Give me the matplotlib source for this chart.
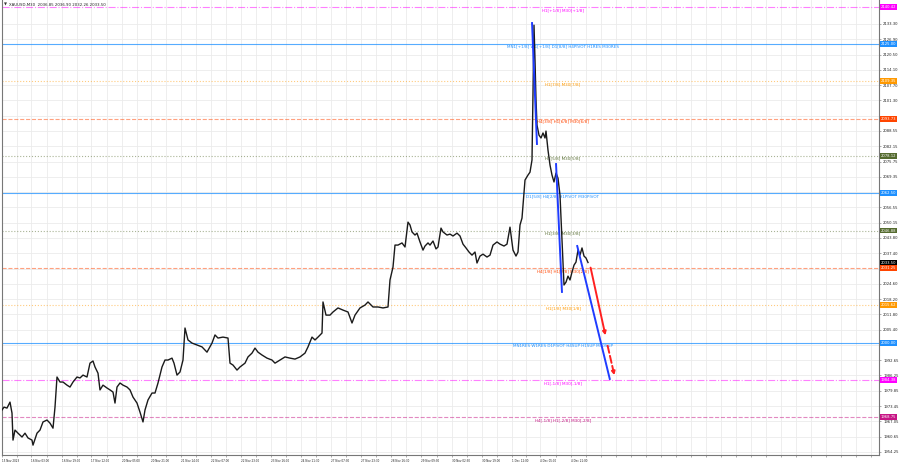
import matplotlib
matplotlib.use("Agg")
import matplotlib.pyplot as plt
import numpy as np

# XAUUSD M30 - price trace (bar index, close)
bar = [2, 4, 7, 10, 12, 13, 15, 18, 22, 25, 28, 32, 33, 37, 40, 43, 47, 50, 53, 55,
       57, 60, 63, 67, 70, 73, 77, 80, 83, 87, 90, 93, 95, 98, 100, 103, 107, 110, 113, 115,
       117, 120, 123, 127, 130, 133, 137, 140, 143, 145, 148, 152, 155, 158, 162, 165, 168, 172, 174, 177,
       180, 183, 185, 188, 192, 197, 202, 207, 212, 215, 218, 223, 228, 230, 233, 237, 240, 245, 248, 252,
       255, 258, 262, 267, 272, 275, 280, 285, 290, 295, 300, 305, 308, 312, 315, 318, 322, 323, 326, 330,
       333, 338, 343, 348, 352, 355, 360, 365, 368, 373, 378, 383, 388, 390, 393, 395, 398, 402, 405, 408,
       410, 412, 415, 417, 420, 423, 425, 428, 430, 433, 436, 438, 441, 443, 447, 450, 453, 457, 460, 463,
       466, 469, 472, 475, 477, 480, 483, 487, 490, 493, 497, 500, 504, 507, 510, 513, 516, 518, 520, 522,
       525, 528, 530, 532, 534, 535, 536, 537, 539, 541, 543, 545, 546, 548, 550, 552, 554, 556, 558, 560,
       562, 564, 566, 568, 570, 572, 574, 576, 578, 580, 582, 584, 586, 588]
close = [1971.8, 1973.0, 1972.6, 1975.1, 1970.5, 1959.2, 1963.4, 1962.1, 1960.5, 1962.1, 1960.1, 1959.2, 1957.1, 1962.1, 1963.4, 1966.8, 1967.6, 1966.3, 1964.2, 1973.0,
         1985.6, 1983.5, 1983.5, 1982.2, 1981.4, 1983.5, 1985.6, 1985.2, 1986.4, 1985.6, 1991.4, 1992.3, 1989.8, 1987.2, 1980.2, 1982.2, 1981.0, 1980.2, 1979.3, 1974.7,
         1981.4, 1983.1, 1982.2, 1981.4, 1980.2, 1977.2, 1974.7, 1970.9, 1966.8, 1971.8, 1976.0, 1978.9, 1978.9, 1983.1, 1989.8, 1992.7, 1992.7, 1993.5, 1991.4, 1986.4,
         1987.7, 1992.7, 2006.1, 2001.1, 1999.8, 1999.0, 1998.2, 1996.0, 1999.8, 2003.2, 2001.9, 2002.3, 2001.9, 1991.4, 1990.6, 1988.5, 1989.8, 1991.4, 1994.0, 1995.6,
         1997.7, 1996.0, 1994.8, 1993.5, 1992.7, 1991.4, 1992.7, 1994.0, 1993.5, 1993.1, 1994.0, 1995.6, 1998.2, 2002.3, 2001.1, 2002.3, 2004.0, 2017.0, 2011.5, 2011.5,
         2012.8, 2014.5, 2013.6, 2012.8, 2008.2, 2011.5, 2014.5, 2015.7, 2017.0, 2014.9, 2014.9, 2014.5, 2014.9, 2026.2, 2031.6, 2040.8, 2040.8, 2041.7, 2040.0, 2050.4,
         2049.2, 2046.3, 2045.0, 2045.8, 2042.1, 2038.7, 2040.4, 2041.7, 2040.8, 2042.5, 2039.2, 2040.0, 2047.9, 2046.3, 2045.0, 2045.4, 2044.6, 2045.8, 2044.6, 2041.2,
         2039.6, 2037.9, 2036.6, 2037.9, 2033.3, 2036.2, 2037.0, 2035.8, 2036.6, 2040.8, 2042.1, 2041.2, 2040.4, 2041.2, 2048.3, 2038.7, 2036.2, 2037.9, 2049.2, 2052.1,
         2068.0, 2070.1, 2071.3, 2076.4, 2132.8, 2118.2, 2101.5, 2091.0, 2086.8, 2085.6, 2087.7, 2085.6, 2088.5, 2080.5, 2074.3, 2070.1, 2067.2, 2070.9, 2068.8, 2061.7,
         2042.9, 2024.1, 2025.3, 2027.8, 2026.2, 2029.5, 2032.4, 2033.7, 2038.7, 2036.6, 2039.6, 2036.2, 2035.4, 2033.5]

# murrey / pivot levels
levels = [2140.42, 2125.00, 2109.35, 2093.73, 2078.12, 2062.50, 2046.88, 2031.25, 2015.62, 2000.00, 1984.38, 1968.75]
level_names = ["H1[+1/8] M30[+1/8]",
               "MN1[+1/8] W1[+1/8] D1[8/8] H4PIVOT H1RES M30RES",
               "H1[7/8] M30[7/8]",
               "H4[3/8] H1[6/8] M30[6/8]",
               "H1[5/8] M30[5/8]",
               "D1[5/8] H4[2/8] H1PIVOT M30PIVOT",
               "H1[3/8] M30[3/8]",
               "H4[1/8] H1[2/8] M30[2/8]",
               "H1[1/8] M30[1/8]",
               "MN1RES W1RES D1PIVOT H4SUP H1SUP M30SUP",
               "H1[-1/8] M30[-1/8]",
               "H4[-1/8] H1[-2/8] M30[-2/8]"]
level_col = ["#ff00ff", "#1e90ff", "#ff9900", "#ff4500", "#556b2f", "#1e90ff",
             "#556b2f", "#ff4500", "#ff9900", "#1e90ff", "#ff00ff", "#c71585"]
level_ls = ["-.", "-", ":", "--", ":", "-", ":", "--", ":", "-", "-.", "--"]
last_price = 2033.50

# trend lines drawn on the chart (bar, price)
blue_lines = [([532, 537], [2134.1, 2082.7]),
              ([556, 562], [2075.1, 2020.8]),
              ([577, 610], [2040.8, 1984.4])]
red_solid = ([590, 606], [2032.5, 2001.9])
red_dash = ([607, 615], [1999.8, 1985.2])

yticks = [2133.30, 2126.90, 2120.50, 2114.10, 2107.70, 2101.30, 2094.95, 2088.55, 2082.15,
          2075.75, 2069.35, 2062.95, 2056.55, 2050.15, 2043.80, 2037.40, 2031.00, 2024.60,
          2018.20, 2011.80, 2005.40, 1999.00, 1992.65, 1986.25, 1979.85, 1973.45, 1967.05,
          1960.65, 1954.25]
xtick_pos = [2, 31, 62, 91, 122, 151, 181, 211, 241, 271, 301, 331, 361, 391, 421, 452, 482, 512, 540, 571]
xtick_lab = ['15 Nov 2023', '16 Nov 03:00', '16 Nov 19:00', '17 Nov 12:00', '20 Nov 05:00',
             '20 Nov 21:00', '21 Nov 14:00', '22 Nov 07:00', '22 Nov 23:00', '23 Nov 16:00',
             '24 Nov 11:30', '27 Nov 07:30', '27 Nov 23:30', '28 Nov 16:30', '29 Nov 09:30',
             '30 Nov 02:30', '30 Nov 19:00', '1 Dec 12:00', '4 Dec 05:00', '4 Dec 21:00']

fig = plt.figure(figsize=(9, 4.68), dpi=100)
ax = fig.add_axes([2/900, 1-455/468, 877/900, 455/468])
ax.set_xlim(2, 879)
ax.set_ylim(1952.97, 2143.34)

# grid
ax.set_yticks(yticks)
ax.set_xticks(xtick_pos)
mid = [(a + b) / 2 for a, b in zip(xtick_pos[:-1], xtick_pos[1:])]
mid += list(np.arange(xtick_pos[-1] + 15, 879, 15))
ax.set_xticks(mid, minor=True)
ax.grid(True, which='both', color='#ebebeb', lw=0.6, zorder=0)
ax.set_axisbelow(True)

# price labels covered by the level boxes are not shown (as in MT4)
boxed = levels + [last_price]
ylab = []
for v in yticks:
    if min(abs(v - b) for b in boxed) < 1.3:
        ylab.append("")
    else:
        ylab.append("%.2f" % v)
ax.yaxis.tick_right()
ax.set_yticklabels(ylab, fontsize=2.7, color='#222222')
ax.set_xticklabels(xtick_lab, fontsize=2.0, color='#222222', ha='left')
ax.tick_params(axis='both', which='both', length=1.5, width=0.5, color='#888888', pad=1.5)
for s in ['left', 'bottom', 'right']:
    ax.spines[s].set_color('#777777')
    ax.spines[s].set_linewidth(0.8)
ax.spines['top'].set_visible(False)

# levels
for lv, nm, c, ls in zip(levels, level_names, level_col, level_ls):
    a = 0.75 if ls == "-" else 0.5
    ax.axhline(lv, color=c, ls=ls, lw=0.8, alpha=a, zorder=1)
    ax.text(563, lv - 1.25, nm, color=c, fontsize=3.0, ha='center', va='center', zorder=3)
    ax.text(1.002, lv, "%.2f" % lv, transform=ax.get_yaxis_transform(), fontsize=2.7,
            color='white', ha='left', va='center', zorder=5,
            bbox=dict(boxstyle='square,pad=0.25', fc=c, ec='none'), clip_on=False)
ax.text(1.002, last_price, "%.2f" % last_price, transform=ax.get_yaxis_transform(), fontsize=2.7,
        color='white', ha='left', va='center', zorder=6,
        bbox=dict(boxstyle='square,pad=0.25', fc='black', ec='none'), clip_on=False)

# price
ax.plot(bar, close, color='#1a1a1a', lw=1.0, zorder=4)

# trend lines
for bx, by in blue_lines:
    ax.plot(bx, by, color='#1f3cff', lw=1.4, zorder=5, solid_capstyle='butt')
ax.annotate('', xy=(red_solid[0][1], red_solid[1][1]), xytext=(red_solid[0][0], red_solid[1][0]),
            arrowprops=dict(arrowstyle='-|>', color='#ff2020', lw=1.4, mutation_scale=5), zorder=6)
ax.annotate('', xy=(red_dash[0][1], red_dash[1][1]), xytext=(red_dash[0][0], red_dash[1][0]),
            arrowprops=dict(arrowstyle='-|>', color='#ff2020', lw=1.4, ls='--', mutation_scale=5), zorder=6)

# header
fig.text(4/900, 1-5/468, "\u25bc", fontsize=2.8, color='#333333', va='center')
fig.text(9/900, 1-5/468, "XAUUSD,M30  2036.85 2036.90 2032.26 2033.50", fontsize=2.8,
         color='#222222', va='center')

fig.savefig("out.png", dpi=100, facecolor='white')
